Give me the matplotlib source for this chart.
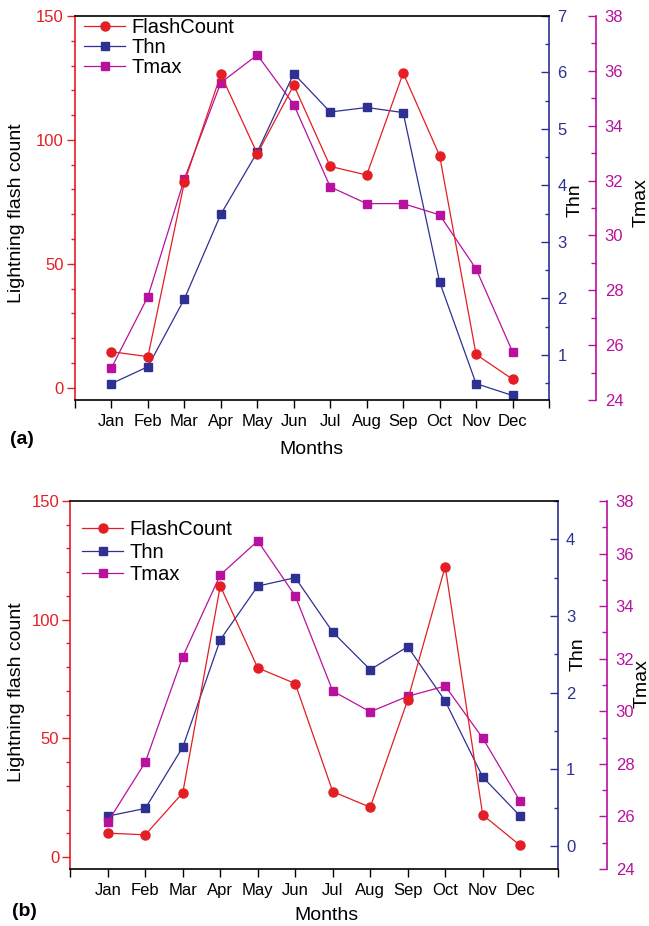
import matplotlib
matplotlib.use("Agg")
import matplotlib.pyplot as plt
from matplotlib.ticker import MultipleLocator, FixedLocator
import numpy as np

plt.rcParams['font.family'] = ['Liberation Sans', 'DejaVu Sans']

months = ['Jan', 'Feb', 'Mar', 'Apr', 'May', 'Jun', 'Jul', 'Aug', 'Sep', 'Oct', 'Nov', 'Dec']

flash_a = [14.5, 12.5, 82.9, 126.4, 94.4, 122.1, 89.3, 85.8, 127.0, 93.6, 13.4, 3.4]
thn_a = [0.49, 0.79, 1.99, 3.49, 4.59, 5.98, 5.30, 5.38, 5.29, 2.29, 0.49, 0.28]
tmax_a = [25.17, 27.77, 32.06, 35.57, 36.58, 34.77, 31.77, 31.16, 31.16, 30.75, 28.78, 25.76]

flash_b = [10.1, 9.4, 27.1, 114.2, 79.7, 73.1, 27.6, 21.0, 66.2, 122.4, 17.8, 4.9]
thn_b = [0.39, 0.49, 1.29, 2.69, 3.39, 3.50, 2.79, 2.30, 2.60, 1.89, 0.90, 0.39]
tmax_b = [25.79, 28.06, 32.08, 35.19, 36.48, 34.39, 30.77, 29.98, 30.57, 30.96, 28.98, 26.57]

RED = '#E31E24'
BLUE = '#2E3192'
MAG = '#B8119E'

W, H = 649, 926
fig = plt.figure(figsize=(W / 100, H / 100), dpi=100)


def px_rect(l, t, r, b):
    return [l / W, 1 - b / H, (r - l) / W, (b - t) / H]


def panel(rect, flash, thn, tmax, thn_lim, thn_major, tmax_off_px, thn_lab, tmax_lab,
          ylab_x, ylab_y, months_x, months_y, tag, tag_x, tag_y, leg_anchor, leg_space):
    ax = fig.add_axes(px_rect(*rect))
    x = np.arange(1, len(months) + 1)
    l1, = ax.plot(x, flash, '-o', color=RED, lw=0.9, ms=6.5, label='FlashCount')
    ax.set_xlim(0, 13)
    ax.set_ylim(-5, 150)
    ax.xaxis.set_major_locator(FixedLocator(list(range(0, 14))))
    ax.set_xticklabels([''] + months + [''])
    ax.yaxis.set_major_locator(MultipleLocator(50))
    ax.yaxis.set_minor_locator(MultipleLocator(10))
    ax.tick_params(axis='x', direction='out', length=6, width=1, labelsize=12, pad=4, colors='black')
    ax.tick_params(axis='y', which='major', direction='out', length=6, width=1, labelsize=12,
                   colors=RED, pad=2)
    ax.tick_params(axis='y', which='minor', direction='out', length=3, width=1, colors=RED)
    ax.spines['left'].set_color(RED)
    ax.spines['left'].set_linewidth(1.2)
    ax.spines['bottom'].set_linewidth(1.2)
    ax.spines['top'].set_linewidth(1.2)
    ax.spines['right'].set_visible(False)

    ax2 = ax.twinx()
    l2, = ax2.plot(x, thn, '-s', color=BLUE, lw=0.9, ms=6, label='Thn')
    ax2.set_ylim(*thn_lim)
    ax2.yaxis.set_major_locator(MultipleLocator(thn_major))
    ax2.yaxis.set_minor_locator(MultipleLocator(thn_major / 2))
    ax2.tick_params(axis='y', which='major', direction='in', length=6, width=1, labelsize=12,
                    colors=BLUE, pad=6)
    ax2.tick_params(axis='y', which='minor', direction='in', length=3, width=1, colors=BLUE)
    for s in ['left', 'top', 'bottom']:
        ax2.spines[s].set_visible(False)
    ax2.spines['right'].set_color(BLUE)
    ax2.spines['right'].set_linewidth(1.2)

    ax3 = ax.twinx()
    l3, = ax3.plot(x, tmax, '-s', color=MAG, lw=0.9, ms=6, label='Tmax')
    ax3.set_ylim(24, 38)
    ax3.yaxis.set_major_locator(MultipleLocator(2))
    ax3.yaxis.set_minor_locator(MultipleLocator(1))
    ax3.spines['right'].set_position(('outward', tmax_off_px * 0.72))
    for s in ['left', 'top', 'bottom']:
        ax3.spines[s].set_visible(False)
    ax3.spines['right'].set_color(MAG)
    ax3.spines['right'].set_linewidth(1.2)
    ax3.tick_params(axis='y', which='major', direction='in', length=6, width=1, labelsize=12,
                    colors=MAG, pad=6.5)
    ax3.tick_params(axis='y', which='minor', direction='in', length=3.5, width=1, colors=MAG)

    ax.set_zorder(ax3.get_zorder() + 1)
    ax.patch.set_visible(False)

    # axis labels
    ax.text(ylab_x, ylab_y, 'Lightning flash count', transform=fig.transFigure,
            rotation=90, ha='center', va='center', fontsize=14)
    ax.text(thn_lab[0], thn_lab[1], 'Thn', transform=ax.transAxes,
            rotation=90, ha='center', va='center', fontsize=14)
    ax.text(tmax_lab[0], tmax_lab[1], 'Tmax', transform=ax.transAxes,
            rotation=90, ha='center', va='center', fontsize=14)
    fig.text(months_x, months_y, 'Months', ha='center', va='center', fontsize=14)
    fig.text(tag_x, tag_y, tag, ha='center', va='center', fontsize=14, fontweight='bold')

    ax.legend(handles=[l1, l2, l3], loc='upper left', bbox_to_anchor=leg_anchor,
              frameon=False, fontsize=14.5, handlelength=2.0, handletextpad=0.35,
              labelspacing=leg_space, borderpad=0, borderaxespad=0)
    return ax


panel((75, 16, 549, 400), flash_a, thn_a, tmax_a, (0.2, 7), 1, 46.7,
      ((575 - 75) / 474, 0.52), ((641 - 75) / 474, 0.513),
      16.7 / W, 1 - 213 / H, 311 / W, 1 - 449 / H, '(a)', 22 / W, 1 - 440 / H,
      (0.02, 0.995), 0.05)

panel((70.3, 501, 557.7, 869), flash_b, thn_b, tmax_b, (-0.3, 4.5), 1, 49,
      ((578 - 70.3) / 487.4, 0.584), ((641.7 - 70.3) / 487.4, 0.505),
      17 / W, 1 - 692 / H, 326 / W, 1 - 915 / H, '(b)', 24.5 / W, 1 - 911 / H,
      (0.025, 0.948), 0.17)

fig.savefig('out.png', dpi=100)
